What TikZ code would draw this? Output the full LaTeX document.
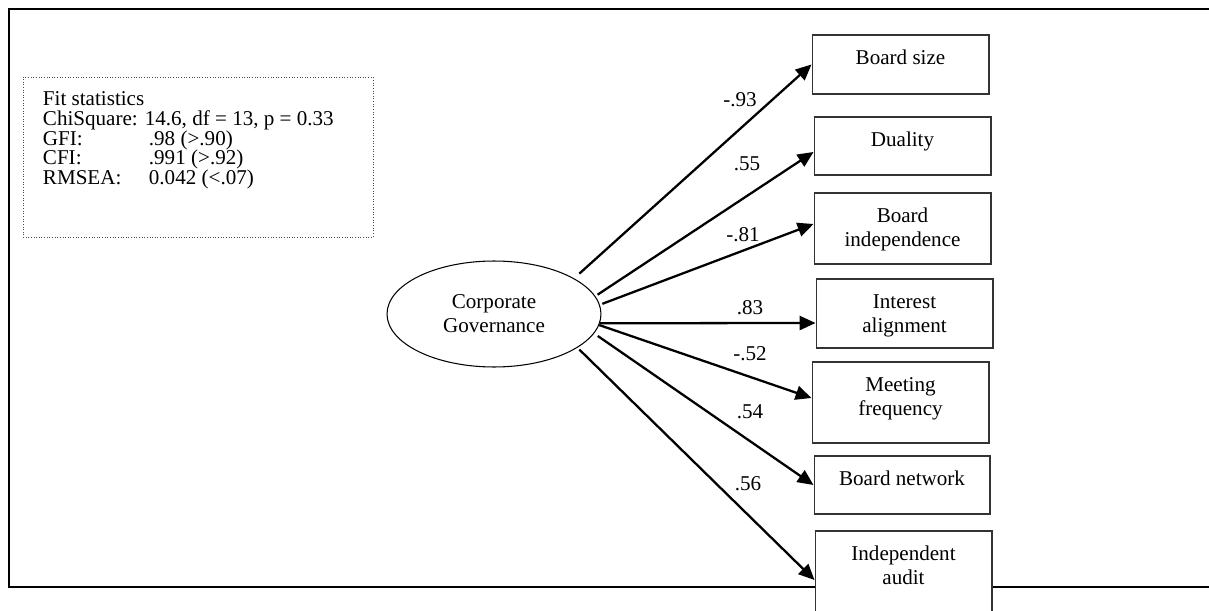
\documentclass[tikz,border=0pt]{standalone}
\usepackage{fontspec}
\setmainfont{Liberation Serif}
\usetikzlibrary{arrows.meta,positioning,shapes.geometric}
\lineskiplimit=-100pt

\begin{document}
\begin{tikzpicture}[x=0.02cm,y=-0.02cm,
  every node/.style={font=\fontsize{12}{13.6}\selectfont},
  obs/.style={rectangle,draw=black!80,line width=0.6pt,fill=white,
              minimum width=3.54cm,inner sep=0pt},
  latent/.style={ellipse,draw,line width=0.6pt,minimum width=4.28cm,
                 minimum height=2.12cm,inner sep=0pt,align=center},
  lbl/.style={align=center,inner sep=0pt},
  coef/.style={inner sep=0pt},
  arrow/.style={-{Triangle[length=9pt,width=8pt]},line width=1.3pt}]

\useasboundingbox (0,0) rectangle (1209,611);
\clip (0,0) rectangle (1209,611);
\draw[line width=1.2pt] (1209,9) -- (9,9) -- (9,587) -- (1209,587);

\node[rectangle,draw=black!70,densely dotted,line width=0.5pt,
      minimum width=7cm,minimum height=3.2cm] (fitbox) at (198,157) {};
\node[lbl,align=left,below right=0.3cm and 0.4cm of fitbox.north west,
      font=\fontsize{12}{11.2}\selectfont] (fitstat)
{Fit statistics\\
ChiSquare: 14.6, df = 13, p = 0.33\\
\makebox[2.12cm][l]{GFI:}.98 (>.90)\\
\makebox[2.12cm][l]{CFI:}.991 (>.92)\\
\makebox[2.12cm][l]{RMSEA:}0.042 (<.07)};

\node[latent] (cg) at (494,314) {Corporate\\Governance};

\node[obs,minimum height=1.18cm] (bsize) at (900.5,64.5) {};
\node[lbl,below=0.31cm of bsize.north] (bsizet) {Board size};
\node[obs,minimum height=1.16cm] (dual) at (902.5,146) {};
\node[lbl,below=0.31cm of dual.north] (dualt) {Duality};
\node[obs,minimum height=1.42cm] (bind) at (902.5,228.5) {};
\node[lbl,below=0.31cm of bind.north] (bindt) {Board\\independence};
\node[obs,minimum height=1.38cm] (inter) at (904.5,313.5) {};
\node[lbl,below=0.31cm of inter.north] (intert) {Interest\\alignment};
\node[obs,minimum height=1.62cm] (meet) at (900.5,402.5) {};
\node[lbl,below=0.31cm of meet.north] (meett) {Meeting\\frequency};
\node[obs,minimum width=3.52cm,minimum height=1.16cm] (bnet) at (902,485) {};
\node[lbl,below=0.31cm of bnet.north] (bnett) {Board network};
\node[obs,minimum height=1.96cm] (audit) at (903.5,580) {};
\node[lbl,below=0.31cm of audit.north] (auditt) {Independent\\audit};

\draw[arrow,shorten <=4pt] (cg.24) -- (bsize.west);
\draw[arrow,shorten <=1.5pt] (cg.10) -- ([yshift=-0.12cm]dual.west);
\draw[arrow,shorten <=1.5pt] (cg.5) -- ([yshift=0.09cm]bind.west);
\draw[arrow] (cg.-5) -- ([yshift=-0.19cm]inter.west);
\draw[arrow] (cg.-6) -- ([yshift=0.09cm]meet.west);
\draw[arrow,shorten <=2.5pt] (cg.-11) -- (bnet.west);
\draw[arrow,shorten <=1.5pt] (cg.-22) -- (audit.west);

\node[coef] (c93) at (740,100) {-.93};
\node[coef] (c55) at (747,164) {.55};
\node[coef] (c81) at (743,235) {-.81};
\node[coef] (c83) at (750,308) {.83};
\node[coef] (c52) at (750,354) {-.52};
\node[coef] (c54) at (750,412) {.54};
\node[coef] (c56) at (748,484) {.56};
\end{tikzpicture}
\end{document}
